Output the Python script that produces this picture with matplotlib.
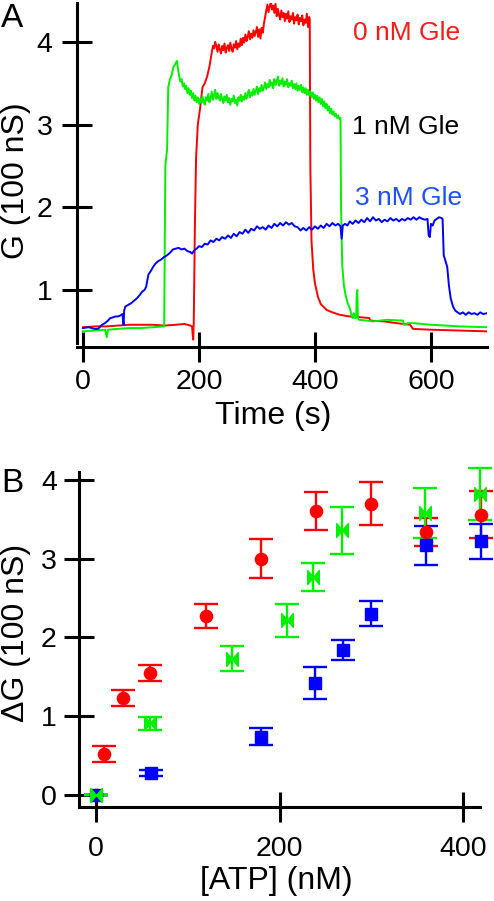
import matplotlib
matplotlib.use("Agg")
import matplotlib.pyplot as plt
from matplotlib.path import Path
import numpy as np

plt.rcParams['font.family'] = ['Liberation Sans', 'DejaVu Sans']

# ---- panel A: conductance traces (time in s, G in 100 nS) ----
# red, 0 nM Gle: slow parts, noisy plateau sampled every 2 s, decay
red_pre_t = [0, 20, 40, 60, 80, 100, 120, 140, 160, 175, 185, 188, 190, 191, 193, 195, 198,
             202, 206, 210, 214, 218, 222, 224]
red_pre_g = [0.55, 0.56, 0.56, 0.57, 0.58, 0.58, 0.58, 0.57, 0.58, 0.59, 0.57, 0.56, 0.40,
             0.60, 1.80, 2.60, 3.00, 3.20, 3.45, 3.50, 3.58, 3.70, 3.87, 3.95]
red_plat_t0 = 226
red_plat_g = [3.92, 4.00, 3.95, 3.88, 3.97, 3.91, 3.86, 3.95, 3.90, 3.98, 3.87, 3.93, 3.96,
              3.89, 3.99, 3.92, 3.88, 3.97, 3.93, 4.01, 3.91, 3.98, 3.94, 4.04, 3.96, 4.05,
              3.99, 4.09, 4.01, 4.06, 4.13, 4.03, 4.10, 4.05, 4.14, 4.07, 4.12, 4.18, 4.06,
              4.15, 4.04, 4.17, 4.11, 4.22, 4.30, 4.38, 4.45, 4.36, 4.43, 4.48, 4.39, 4.44,
              4.35, 4.46, 4.31, 4.40, 4.33, 4.27, 4.38, 4.30, 4.35, 4.25, 4.34, 4.28, 4.37,
              4.24, 4.31, 4.27, 4.35, 4.22, 4.30, 4.26, 4.33, 4.21, 4.29, 4.25, 4.32, 4.20,
              4.27, 4.23, 4.34, 4.18, 4.30]
red_post_t = [391, 392, 394, 397, 400, 405, 410, 420, 430, 443, 460, 480, 494, 495, 520, 540,
              564, 569, 600, 650, 697]
red_post_g = [4.28, 2.50, 1.60, 1.25, 1.08, 0.92, 0.83, 0.76, 0.73, 0.70, 0.68, 0.67, 0.66,
              0.63, 0.62, 0.60, 0.58, 0.53, 0.52, 0.51, 0.50]

# green, 1 nM Gle
green_pre_t = [0, 20, 38, 41, 43, 60, 80, 100, 120, 138, 140, 141, 142, 145, 147, 150, 153,
               156, 159, 162]
green_pre_g = [0.50, 0.51, 0.52, 0.43, 0.52, 0.53, 0.54, 0.54, 0.55, 0.56, 0.56, 1.50, 2.50,
               2.70, 3.45, 3.55, 3.60, 3.70, 3.73, 3.77]
green_plat_t0 = 164
green_plat_g = [3.66, 3.58, 3.52, 3.55, 3.46, 3.50, 3.43, 3.47, 3.38, 3.44, 3.36, 3.41, 3.32,
                3.38, 3.29, 3.35, 3.27, 3.33, 3.25, 3.31, 3.26, 3.34, 3.28, 3.24, 3.33, 3.29,
                3.37, 3.27, 3.32, 3.40, 3.30, 3.35, 3.42, 3.31, 3.38, 3.33, 3.29, 3.37, 3.31,
                3.26, 3.34, 3.29, 3.36, 3.27, 3.32, 3.24, 3.31, 3.28, 3.35, 3.26, 3.30, 3.23,
                3.33, 3.29, 3.36, 3.28, 3.34, 3.30, 3.38, 3.31, 3.37, 3.42, 3.33, 3.39, 3.35,
                3.43, 3.36, 3.41, 3.46, 3.37, 3.44, 3.40, 3.48, 3.41, 3.45, 3.51, 3.43, 3.49,
                3.45, 3.54, 3.47, 3.51, 3.44, 3.55, 3.48, 3.52, 3.58, 3.47, 3.53, 3.49, 3.56,
                3.46, 3.52, 3.48, 3.55, 3.45, 3.50, 3.47, 3.53, 3.44, 3.49, 3.43, 3.50, 3.41,
                3.47, 3.42, 3.48, 3.39, 3.45, 3.38, 3.44, 3.36, 3.42, 3.35, 3.40, 3.33, 3.39,
                3.31, 3.36, 3.29, 3.35, 3.27, 3.33, 3.25, 3.31, 3.22, 3.28, 3.20, 3.25, 3.17,
                3.22, 3.14, 3.19, 3.12, 3.16, 3.10, 3.13, 3.08, 3.11, 3.07]
green_post_t = [444, 445, 447, 450, 453, 456, 460, 463, 465, 467, 469, 471, 472, 473, 474,
                476, 490, 500, 524, 552, 553, 556, 560, 569, 600, 650, 697]
green_post_g = [3.08, 2.00, 1.30, 1.05, 0.93, 0.85, 0.78, 0.70, 0.66, 0.72, 0.66, 0.67, 0.95,
                1.00, 0.66, 0.64, 0.63, 0.62, 0.64, 0.63, 0.58, 0.58, 0.60, 0.60, 0.58, 0.56,
                0.55]

# blue, 3 nM Gle
blue_t = [0, 10, 20, 26, 30, 33, 38, 43, 47, 52, 56, 60, 64, 68, 70, 71, 73, 78, 83, 88, 93,
          98, 102, 106, 109, 111, 113, 117, 121, 125, 130, 135, 140, 145, 150, 155, 160, 165,
          170, 175, 180, 185, 188, 192, 196, 200, 205, 210, 215, 220, 225, 230, 235, 240, 245,
          250, 255, 260, 265, 270, 275, 280, 285, 290, 295, 300, 305, 310, 315, 320, 325, 330,
          335, 340, 345, 350, 355, 360, 365, 370, 375, 380, 385, 390, 395, 400, 405, 410, 415,
          420, 425, 430, 435, 440, 444, 446, 448, 452, 456, 460, 465, 470, 475, 480, 485, 490,
          495, 500, 505, 510, 515, 520, 525, 530, 535, 540, 545, 550, 555, 560, 565, 570, 575,
          580, 585, 590, 594, 596, 598, 600, 603, 606, 610, 614, 618, 620, 622, 625, 628, 631,
          634, 638, 642, 646, 650, 655, 660, 665, 670, 675, 680, 685, 690, 697]
blue_g = [0.54, 0.55, 0.53, 0.53, 0.56, 0.58, 0.60, 0.63, 0.66, 0.67, 0.68, 0.68, 0.69, 0.71,
          0.58, 0.75, 0.80, 0.82, 0.84, 0.87, 0.90, 0.94, 0.98, 1.00, 1.04, 1.12, 1.19, 1.23,
          1.28, 1.32, 1.35, 1.37, 1.40, 1.42, 1.45, 1.49, 1.50, 1.51, 1.49, 1.50, 1.47, 1.46,
          1.44, 1.48, 1.50, 1.53, 1.52, 1.56, 1.55, 1.60, 1.58, 1.62, 1.60, 1.64, 1.62, 1.66,
          1.63, 1.68, 1.65, 1.70, 1.68, 1.73, 1.69, 1.74, 1.72, 1.77, 1.74, 1.76, 1.73, 1.78,
          1.75, 1.80, 1.77, 1.81, 1.78, 1.82, 1.79, 1.81, 1.77, 1.76, 1.72, 1.75, 1.72, 1.76,
          1.73, 1.77, 1.74, 1.78, 1.75, 1.80, 1.77, 1.81, 1.78, 1.80, 1.77, 1.62, 1.78, 1.80,
          1.78, 1.83, 1.80, 1.84, 1.81, 1.85, 1.82, 1.87, 1.83, 1.88, 1.84, 1.86, 1.82, 1.85,
          1.83, 1.87, 1.84, 1.86, 1.83, 1.86, 1.84, 1.87, 1.85, 1.88, 1.85, 1.88, 1.86, 1.85,
          1.86, 1.66, 1.64, 1.80, 1.78, 1.84, 1.86, 1.88, 1.87, 1.86, 1.42, 1.35, 1.28, 1.05,
          0.90, 0.80, 0.75, 0.73, 0.71, 0.73, 0.70, 0.73, 0.71, 0.72, 0.70, 0.73, 0.71, 0.72]

trace_labels = ['0 nM Gle', '1 nM Gle', '3 nM Gle']

# ---- panel B: delta G vs [ATP] ----
red_atp = [0, 9, 29, 59, 120, 180, 240, 300, 360, 420]
red_dg = [0.0, 0.52, 1.23, 1.55, 2.27, 3.00, 3.61, 3.70, 3.34, 3.56]
red_err = [0.0, 0.10, 0.10, 0.10, 0.15, 0.25, 0.24, 0.27, 0.18, 0.30]

green_atp = [0, 59, 148, 208, 237, 268, 359, 418]
green_dg = [0.0, 0.91, 1.73, 2.22, 2.77, 3.36, 3.58, 3.82]
green_err = [0.0, 0.08, 0.16, 0.21, 0.18, 0.30, 0.32, 0.33]

blue_atp = [0, 60, 180, 239, 269, 300, 360, 420]
blue_dg = [0.0, 0.28, 0.74, 1.42, 1.84, 2.30, 3.17, 3.22]
blue_err = [0.0, 0.04, 0.11, 0.20, 0.13, 0.16, 0.25, 0.22]

RED = '#ff0000'
GREEN = '#00f000'
BLUE = '#0000ff'


def plateau_time(t0, vals):
    # samples every 2 s starting at t0
    return list(np.arange(len(vals)) * 2 + t0)


red_t = red_pre_t + plateau_time(red_plat_t0, red_plat_g) + red_post_t
red_g = red_pre_g + red_plat_g + red_post_g
green_t = green_pre_t + plateau_time(green_plat_t0, green_plat_g) + green_post_t
green_g = green_pre_g + green_plat_g + green_post_g

W, H = 494, 901
fig = plt.figure(figsize=(W / 100, H / 100), dpi=100)


def px_axes(l, r, t, b):
    return fig.add_axes([l / W, 1 - b / H, (r - l) / W, (b - t) / H])


def style(ax):
    for s in ['top', 'right']:
        ax.spines[s].set_visible(False)
    for s in ['left', 'bottom']:
        ax.spines[s].set_linewidth(2.2)
    ax.tick_params(direction='inout', length=22, width=2.2, labelsize=20.5,
                   color='black')


# panel A
axA = px_axes(77, 487, 3, 347)
axA.plot(red_t, red_g, color=RED, lw=1.4)
axA.plot(green_t, green_g, color=GREEN, lw=1.4)
axA.plot(blue_t, blue_g, color=BLUE, lw=1.4)
axA.set_xlim(-10.3, 696.6)
axA.set_ylim(0.311, 4.47)
axA.set_xticks([0, 200, 400, 600])
axA.set_yticks([1, 2, 3, 4])
style(axA)
axA.tick_params(axis='y', pad=6.5)
axA.tick_params(axis='x', pad=5)
axA.spines['left'].set_bounds(0.36, 4.47)
axA.text(465, 4.02, trace_labels[0], color='#ff1a1a', fontsize=19, va='baseline')
axA.text(464, 2.886, trace_labels[1], color='black', fontsize=19, va='baseline')
axA.text(469, 2.03, trace_labels[2], color='#1f4fff', fontsize=19, va='baseline')

fig.text(16 / W, 1 - 181 / H, 'G (100 nS)', rotation=90, ha='center', va='center',
         fontsize=23)
fig.text(273 / W, 1 - 416 / H, 'Time (s)', ha='center', va='center', fontsize=23)
fig.text(1 / W, 1 - 3 / H, 'A', ha='left', va='top', fontsize=24)

# panel B
bowtie = Path([(-1, -1.2), (-1, 1.2), (0, 0), (1, 1.2), (1, -1.2), (0, 0), (-1, -1.2)],
              [Path.MOVETO, Path.LINETO, Path.LINETO, Path.LINETO, Path.LINETO,
               Path.LINETO, Path.CLOSEPOLY])

axB = px_axes(79, 480, 472, 807)
kw = dict(ls='none', elinewidth=1.7, capthick=1.7, capsize=8.3, clip_on=False)
e1 = axB.errorbar(red_atp, red_dg, yerr=red_err, color=RED, marker='o', ms=8.8, **kw)
e2 = axB.errorbar(blue_atp, blue_dg, yerr=blue_err, color=BLUE, marker='s', ms=8, **kw)
e3 = axB.errorbar(green_atp, green_dg, yerr=green_err, color=GREEN, marker=bowtie, ms=10, **kw)
for e in (e1, e2, e3):
    for part in e.lines[1] + e.lines[2]:
        part.set_clip_on(False)
axB.set_xlim(-18.5, 418.5)
axB.set_ylim(-0.152, 4.10)
axB.set_xticks([0, 200, 400])
axB.set_yticks([0, 1, 2, 3, 4])
style(axB)
axB.tick_params(axis='y', pad=5)
axB.tick_params(axis='x', pad=10)

fig.text(16 / W, 1 - 633 / H, '\u0394G (100 nS)', rotation=90, ha='center', va='center',
         fontsize=23)
fig.text(276 / W, 1 - 881 / H, '[ATP] (nM)', ha='center', va='center', fontsize=23)
fig.text(1 / W, 1 - 468 / H, 'B', ha='left', va='top', fontsize=24)

fig.savefig('out.png', dpi=100)
